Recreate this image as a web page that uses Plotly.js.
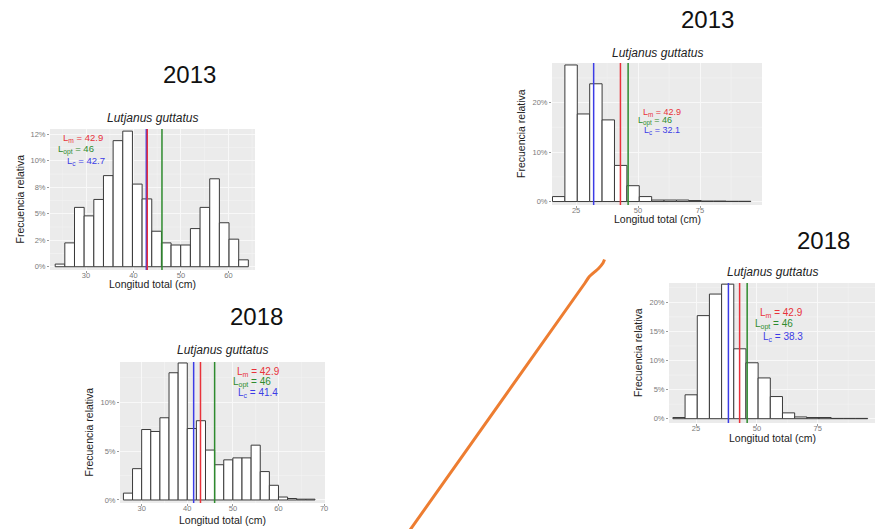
<!DOCTYPE html>
<html><head><meta charset="utf-8">
<script src="https://cdn.plot.ly/plotly-3.0.1.min.js"></script>
<style>html,body{margin:0;padding:0;background:#fff;}#chart{width:882px;height:529px;}</style>
</head><body><div id="chart"></div>
<script>
// ---------- Panel A : 2013 (top-left) ----------
const binsA = [24.52, 26.55, 28.59, 30.62, 32.66, 34.69, 36.73, 38.76, 40.80, 42.83, 44.87, 46.90, 48.94, 50.97, 53.01, 55.04, 57.08, 59.11, 61.15, 63.18];
const freqA = [0.25, 2.25, 5.6, 4.8, 6.35, 8.6, 11.9, 12.8, 7.8, 6.4, 3.35, 2.25, 2.05, 2.05, 3.6, 5.6, 8.3, 4.15, 2.6, 0.65];
const linesA = {Lm: 42.9, Lopt: 46, Lc: 42.7};
const xTicksA = [30, 40, 50, 60];
const yTicksA = [0, 2.5, 5, 7.5, 10, 12.5];
const yLabelsA = ["0%", "2%", "5%", "8%", "10%", "12%"];

// ---------- Panel B : 2018 (bottom-left) ----------
const binsB = [27, 29, 31, 33, 35, 37, 39, 41, 43, 45, 47, 49, 51, 53, 55, 57, 59, 61, 63, 65, 67];
const freqB = [0.7, 3.2, 7.2, 7.0, 8.4, 13.0, 14.0, 7.3, 8.1, 5.1, 3.6, 4.1, 4.3, 4.3, 5.6, 2.9, 1.5, 0.3, 0.15, 0.08, 0.08];
const linesB = {Lm: 42.9, Lopt: 46, Lc: 41.4};
const xTicksB = [30, 40, 50, 60, 70];
const yTicksB = [0, 5, 10];
const yLabelsB = ["0%", "5%", "10%"];

// ---------- Panel C : 2013 (top-right) ----------
const binsC = [18, 23, 28, 33, 38, 43, 48, 53, 58, 63, 68, 73, 78, 83, 88, 93];
const freqC = [1.0, 27.6, 17.7, 23.8, 16.5, 7.3, 3.2, 1.0, 0.3, 0.3, 0.3, 0.2, 0.1, 0.1, 0.05, 0.05];
const linesC = {Lm: 42.9, Lopt: 46, Lc: 32.1};
const xTicksC = [25, 50, 75];
const yTicksC = [0, 10, 20];
const yLabelsC = ["0%", "10%", "20%"];

// ---------- Panel D : 2018 (right) ----------
const binsD = [18, 23, 28, 33, 38, 43, 48, 53, 58, 63, 68, 73, 78, 83, 88, 93];
const freqD = [0.2, 4.1, 17.7, 21.4, 23.1, 12.0, 9.6, 7.0, 3.8, 1.0, 0.3, 0.2, 0.2, 0.05, 0.05, 0.05];
const linesD = {Lm: 42.9, Lopt: 46, Lc: 38.3};
const xTicksD = [25, 50, 75];
const yTicksD = [0, 5, 10, 15, 20];
const yLabelsD = ["0%", "5%", "10%", "15%", "20%"];

// ---------- Hand-drawn orange connector (page pixels) ----------
const orangeX = [604.5, 603, 598.5, 589, 585, 410];
const orangeY = [259.5, 263, 268.5, 277, 283, 530];

const species = "Lutjanus guttatus";
const xTitle = "Longitud total (cm)";
const yTitle = "Frecuencia relativa";

// ---------- layout helpers ----------
const W = 882, H = 529;
const fx = p => p / W;
const fy = p => 1 - p / H;
const FONT = "Liberation Sans, Arial, sans-serif";
const RED = "#E8323A", GREEN = "#2E8B2E", BLUE = "#3C3CE6";

const panels = [
  {id: "", bins: binsA, freq: freqA, w: 2.035, L: linesA, xt: xTicksA, yt: yTicksA, yl: yLabelsA,
   box: [50, 255, 129, 270], xr: [22.41, 65.6], yr: [-0.31, 13.0],
   year: "2013", yearPos: [189, 74], titleY: 118, xTitleY: 283.5, yTitleX: 20,
   lab: {fs: 9.5, pos: [[82.5, 138], [76, 149], [85.5, 160.5]]}},
  {id: "2", bins: binsB, freq: freqB, w: 2, L: linesB, xt: xTicksB, yt: yTicksB, yl: yLabelsB,
   box: [120, 325, 362, 503], xr: [25.25, 70.2], yr: [-0.31, 14.1],
   year: "2018", yearPos: [256, 316], titleY: 350, xTitleY: 520, yTitleX: 88,
   lab: {fs: 10, pos: [[258, 372], [252, 382.5], [258, 393]]}},
  {id: "3", bins: binsC, freq: freqC, w: 5, L: linesC, xt: xTicksC, yt: yTicksC, yl: yLabelsC,
   box: [552, 762, 63, 205], xr: [15.3, 100], yr: [-0.7, 28.0],
   year: "2013", yearPos: [707, 19], titleY: 53, xTitleY: 219, yTitleX: 521,
   lab: {fs: 9, pos: [[661.7, 112.5], [655, 121.5], [662, 130.5]]}},
  {id: "4", bins: binsD, freq: freqD, w: 5, L: linesD, xt: xTicksD, yt: yTicksD, yl: yLabelsD,
   box: [669, 875, 283, 423], xr: [13.9, 98.5], yr: [-0.74, 23.3],
   year: "2018", yearPos: [823, 240], titleY: 272, xTitleY: 438, yTitleX: 638,
   lab: {fs: 10, pos: [[781, 313], [774, 324.5], [783, 337]]}}
];

const data = [];
const layout = {
  width: W, height: H, margin: {l: 0, r: 0, t: 0, b: 0},
  paper_bgcolor: "#ffffff", plot_bgcolor: "rgba(0,0,0,0)",
  showlegend: false, font: {family: FONT}, shapes: [], annotations: []
};

panels.forEach(p => {
  const xa = "x" + p.id, ya = "y" + p.id;
  const xk = "xaxis" + p.id, yk = "yaxis" + p.id;
  // grey panel background as a full-domain rectangle
  layout.shapes.push({type: "rect", xref: xa + " domain", yref: ya + " domain", x0: 0, x1: 1, y0: 0, y1: 1,
    fillcolor: "#EBEBEB", line: {width: 0}, layer: "below"});
  // minor grid lines half-way between major ticks
  for (let i = 0; i <= p.xt.length; i++) {
    const step = p.xt[1] - p.xt[0];
    const v = p.xt[0] - step / 2 + i * step;
    if (v > p.xr[0] && v < p.xr[1])
      layout.shapes.push({type: "line", xref: xa, yref: ya + " domain", x0: v, x1: v, y0: 0, y1: 1,
        line: {color: "#F3F3F3", width: 0.6}, layer: "below"});
  }
  for (let i = 0; i <= p.yt.length; i++) {
    const step = p.yt[1] - p.yt[0];
    const v = p.yt[0] + step / 2 + i * step;
    if (v > p.yr[0] && v < p.yr[1])
      layout.shapes.push({type: "line", xref: xa + " domain", yref: ya, x0: 0, x1: 1, y0: v, y1: v,
        line: {color: "#F3F3F3", width: 0.6}, layer: "below"});
  }
  data.push({
    type: "bar", x: p.bins, y: p.freq, width: p.w, xaxis: xa, yaxis: ya,
    marker: {color: "#ffffff", line: {color: "#3a3a3a", width: 1}},
    hoverinfo: "skip"
  });
  const common = {
    showline: false, zeroline: false, ticks: "outside", ticklen: 2, tickwidth: 1,
    tickcolor: "#9a9a9a", tickfont: {size: 7.5, color: "#7a7a7a", family: FONT},
    showgrid: true, gridcolor: "#F8F8F8", gridwidth: 1, fixedrange: true, layer: "below traces"
  };
  layout[xk] = Object.assign({}, common, {
    domain: [fx(p.box[0]), fx(p.box[1])], range: p.xr, anchor: ya,
    tickmode: "array", tickvals: p.xt, ticktext: p.xt.map(String), ticklabelstandoff: -4
  });
  layout[yk] = Object.assign({}, common, {
    domain: [fy(p.box[3]), fy(p.box[2])], range: p.yr, anchor: xa,
    tickmode: "array", tickvals: p.yt, ticktext: p.yl
  });
  // reference lines
  [["Lc", BLUE], ["Lm", RED], ["Lopt", GREEN]].forEach(([k, c]) => {
    layout.shapes.push({type: "line", xref: xa, yref: ya + " domain", x0: p.L[k], x1: p.L[k], y0: 0, y1: 1,
      line: {color: c, width: 1.5}, layer: "above"});
  });
  const cx = (p.box[0] + p.box[1]) / 2, cy = (p.box[2] + p.box[3]) / 2;
  const ann = (text, x, y, size, color, extra) => layout.annotations.push(Object.assign({
    text, xref: "paper", yref: "paper", x: fx(x), y: fy(y), xanchor: "center", yanchor: "middle",
    showarrow: false, font: {family: FONT, size, color}}, extra || {}));
  ann(p.year, p.yearPos[0], p.yearPos[1], 24, "#111");
  ann("<i>" + species + "</i>", cx, p.titleY, 12, "#222");
  ann(xTitle, cx, p.xTitleY, 10.5, "#222");
  ann(yTitle, p.yTitleX, cy, 10.5, "#222", {textangle: -90});
  const labs = [["L<sub>m</sub> = " + p.L.Lm, RED], ["L<sub>opt</sub> = " + p.L.Lopt, GREEN], ["L<sub>c</sub> = " + p.L.Lc, BLUE]];
  labs.forEach(([t, c], i) => ann(t, p.lab.pos[i][0], p.lab.pos[i][1], p.lab.fs, c));
});

// overlay axis covering the whole page for the orange connector
layout.xaxis5 = {domain: [0, 1], range: [0, W], visible: false, fixedrange: true, anchor: "y5"};
layout.yaxis5 = {domain: [0, 1], range: [H, 0], visible: false, fixedrange: true, anchor: "x5"};
data.push({type: "scatter", mode: "lines", x: orangeX, y: orangeY, xaxis: "x5", yaxis: "y5",
  line: {color: "#ED7D31", width: 3, shape: "spline", smoothing: 0.6}, hoverinfo: "skip"});

Plotly.newPlot("chart", data, layout, {staticPlot: true, displayModeBar: false});
</script>
</body></html>
